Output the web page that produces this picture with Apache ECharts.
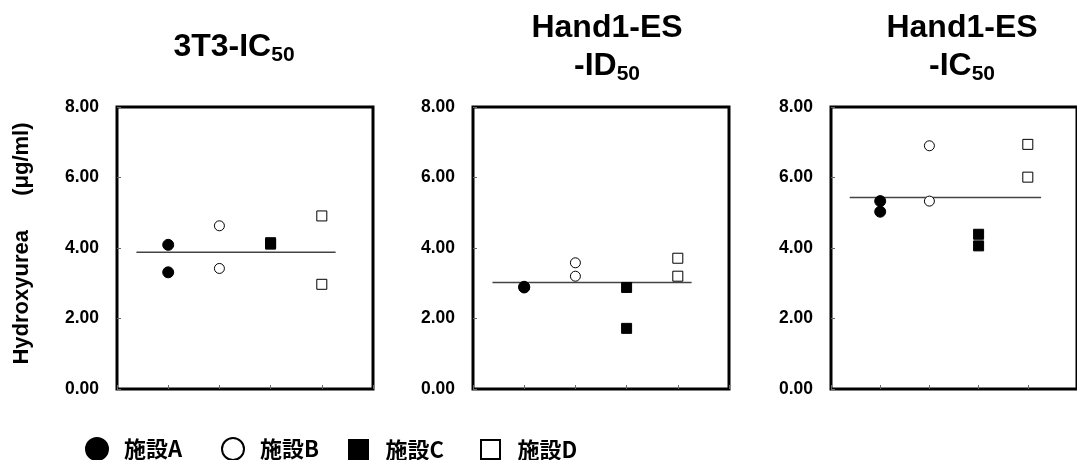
<!DOCTYPE html>
<html>
<head>
<meta charset="utf-8">
<script src="https://cdn.jsdelivr.net/npm/echarts@6/dist/echarts.min.js"></script>
<style>
html,body{margin:0;padding:0;background:#fff;}
#chart{width:1077px;height:460px;}
</style>
</head>
<body>
<div id="chart"></div>
<script>
// ---- data ----
var facilities = ['施設A', '施設B', '施設C', '施設D'];
var panelTitles = ['3T3-IC', 'Hand1-ES\n-ID', 'Hand1-ES\n-IC'];
var titleSubs = ['50', '50', '50'];
var yTicks = [0, 2, 4, 6, 8];
// values per panel, per facility (two replicate measurements each)
var panel1 = { A: [4.09, 3.31], B: [4.63, 3.42], C: [4.15, 4.11], D: [4.91, 2.97] };
var panel2 = { A: [2.88, 2.90], B: [3.58, 3.20], C: [2.88, 1.72], D: [3.71, 3.20] };
var panel3 = { A: [5.33, 5.03], B: [6.90, 5.33], C: [4.39, 4.06], D: [6.94, 6.01] };
var means = [3.88, 3.02, 5.43];
var meanLineX = [0.38, 4.27];

var panels = [panel1, panel2, panel3];
var keys = ['A', 'B', 'C', 'D'];
var facX = [1, 2, 3, 4];

// ---- styles ----
var gridLefts = [117, 473, 831];
var gridWidth = 256;
var titleCenters = [234, 607, 962];
var markerStyles = [
  { symbol: 'circle', size: 11, color: '#000', border: '#000' },
  { symbol: 'circle', size: 10, color: '#fff', border: '#000' },
  { symbol: 'rect', size: 10, color: '#000', border: '#000' },
  { symbol: 'rect', size: 10, color: '#fff', border: '#000' }
];
var legendIcons = ['circle', 'circle', 'path://M0,0H10V10H0Z', 'path://M0,0H10V10H0Z'];

var fontLatin = 'Liberation Sans, Arial';
var grids = [], xAxes = [], yAxes = [], series = [], titles = [];
for (var p = 0; p < 3; p++) {
  grids.push({ left: gridLefts[p], width: gridWidth, top: 107, height: 282,
    show: true, borderColor: '#000', borderWidth: 3, backgroundColor: 'transparent' });
  xAxes.push({ type: 'value', gridIndex: p, min: 0, max: 5, interval: 1,
    axisLine: { show: false }, splitLine: { show: false },
    axisLabel: { show: false },
    axisTick: { show: true, inside: true, length: 4, lineStyle: { color: '#666', width: 1 } } });
  var ya = { type: 'value', gridIndex: p, min: 0, max: 8, interval: 2,
    axisLine: { show: false }, splitLine: { show: false },
    axisTick: { show: true, inside: true, length: 4, lineStyle: { color: '#666', width: 1 } },
    axisLabel: { margin: 18, fontFamily: fontLatin, fontWeight: 'bold', fontSize: 17.5, color: '#000',
      formatter: function (v) { return v.toFixed(2); } } };
  if (p === 0) {
    ya.name = 'Hydroxyurea\u3000  (μg/ml)';
    ya.nameLocation = 'middle';
    ya.nameGap = 84;
    ya.nameTextStyle = { fontFamily: fontLatin, fontWeight: 'bold', fontSize: 22, color: '#000', padding: [0, 0, 0, 9] };
  }
  yAxes.push(ya);

  var lines = panelTitles[p].split('\n');
  var txt = lines.map(function (l, i) {
    return i === lines.length - 1 ? '{a|' + l + '}{b|' + titleSubs[p] + '}' : '{a|' + l + '}';
  }).join('\n');
  titles.push({ text: txt, left: titleCenters[p], textAlign: 'center', top: lines.length > 1 ? 9 : 28, padding: 0,
    textStyle: { rich: {
      a: { fontFamily: fontLatin, fontWeight: 'bold', fontSize: 32, color: '#000', lineHeight: 38, verticalAlign: 'middle' },
      b: { fontFamily: fontLatin, fontWeight: 'bold', fontSize: 21, color: '#000', lineHeight: 30, verticalAlign: 'bottom' } } } });

  for (var f = 0; f < 4; f++) {
    var vals = panels[p][keys[f]];
    var ms = markerStyles[f];
    series.push({ type: 'scatter', name: facilities[f], xAxisIndex: p, yAxisIndex: p,
      symbol: ms.symbol, symbolSize: ms.size,
      itemStyle: { color: ms.color, borderColor: ms.border, borderWidth: 1, opacity: 1 },
      data: vals.map(function (v) { return [facX[f], v]; }), z: 3 });
  }
  series.push({ type: 'line', name: 'mean' + p, xAxisIndex: p, yAxisIndex: p, symbol: 'none',
    lineStyle: { color: '#444', width: 1.5 },
    data: meanLineX.map(function (x) { return [x, means[p]]; }), z: 2, silent: true });
}

var legendLefts = [85, 221, 348, 480];
var legendH = [22, 22, 19, 19];
var legends = facilities.map(function (name, i) {
  return { data: [{ name: name, icon: legendIcons[i] }], left: legendLefts[i], top: 448 - legendH[i] / 2, padding: 0,
    itemWidth: 44, itemHeight: legendH[i], selectedMode: false, symbolKeepAspect: true,
    textStyle: { fontFamily: 'Noto Sans CJK JP', fontWeight: 'bold', fontSize: 22, color: '#000' } };
});

var chart = echarts.init(document.getElementById('chart'), null, { renderer: 'canvas' });
chart.setOption({
  animation: false,
  backgroundColor: '#fff',
  title: titles,
  legend: legends,
  grid: grids,
  xAxis: xAxes,
  yAxis: yAxes,
  series: series
});
</script>
</body>
</html>
